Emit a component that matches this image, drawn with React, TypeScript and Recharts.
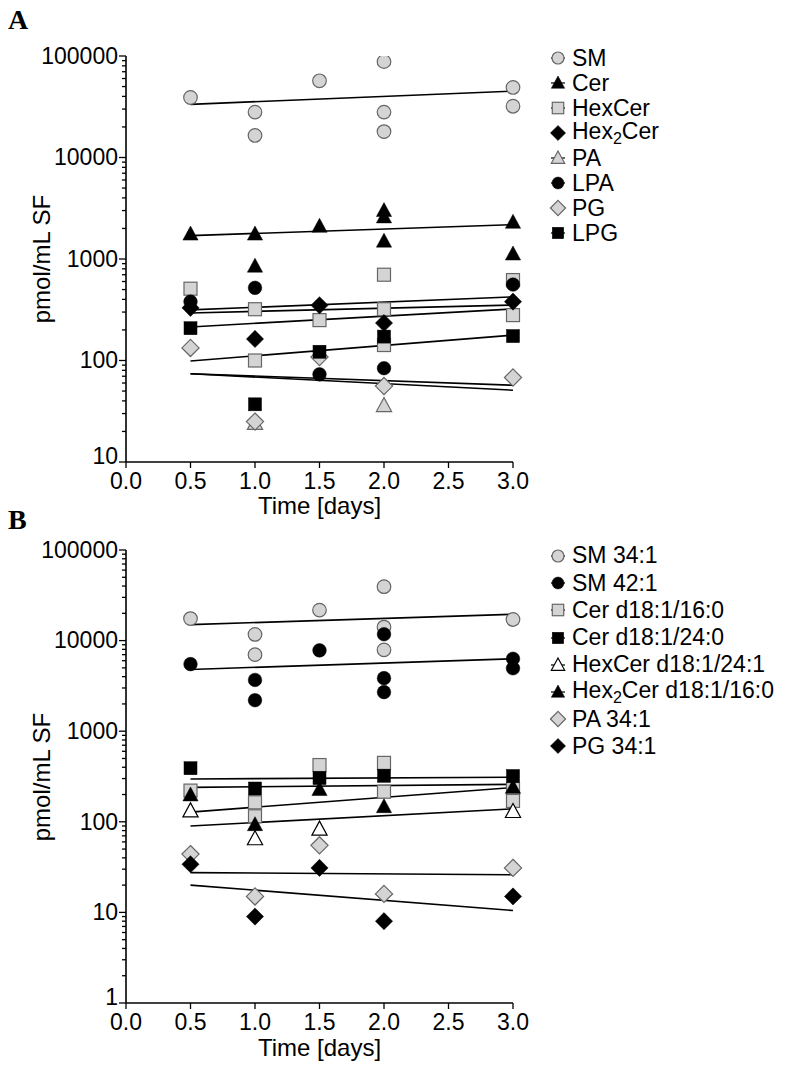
import React from 'react'
import { ComposedChart, Scatter, Line, XAxis, YAxis } from 'recharts'

type Pt = [number, number]
type Kind = 'circle' | 'square' | 'triangle' | 'diamond'
type Tone = 'grey' | 'black' | 'white'

const FONT = '"Liberation Sans", Arial, sans-serif'
const GREY = '#d4d4d4'
const GREY_EDGE = '#666666'

// x axis
const X_TICKS = [0, 0.5, 1, 1.5, 2, 2.5, 3]
const FIT_DAYS = [0.5, 3]

// panel A  [day, pmol/mL]
const SM_A: Pt[] = [[0.5, 39000], [1, 28000], [1, 16500], [1.5, 57000], [2, 88000], [2, 28000], [2, 18000], [3, 49000], [3, 32000]]
const CER_A: Pt[] = [[0.5, 1760], [1, 1760], [1, 850], [1.5, 2100], [2, 3000], [2, 2600], [2, 1500], [3, 2300], [3, 1120]]
const HEXCER_A: Pt[] = [[0.5, 510], [1, 320], [1, 100], [1.5, 250], [2, 700], [2, 320], [2, 142], [3, 620], [3, 280]]
const HEX2CER_A: Pt[] = [[0.5, 330], [1, 163], [1.5, 350], [2, 234], [3, 380]]
const PA_A: Pt[] = [[1, 24], [2, 36]]
const LPA_A: Pt[] = [[0.5, 380], [1, 520], [1.5, 73], [2, 84], [3, 560]]
const PG_A: Pt[] = [[0.5, 133], [1, 25], [1.5, 108], [2, 56], [3, 68]]
const LPG_A: Pt[] = [[0.5, 208], [1, 37], [1.5, 122], [2, 172], [3, 174]]

// regression lines, value at day 0.5 and day 3.0
const SM_A_FIT = [33400, 45000]
const CER_A_FIT = [1700, 2180]
const HEXCER_A_FIT = [214, 322]
const HEX2CER_A_FIT = [294, 352]
const PA_A_FIT = [74, 51]
const LPA_A_FIT = [315, 423]
const PG_A_FIT = [74, 57]
const LPG_A_FIT = [99, 178]

// panel B
const SM341_B: Pt[] = [[0.5, 17500], [1, 11700], [1, 7000], [1.5, 21700], [2, 39400], [2, 14100], [2, 7900], [3, 17100]]
const SM421_B: Pt[] = [[0.5, 5500], [1, 3680], [1, 2200], [1.5, 7800], [2, 11750], [2, 3850], [2, 2700], [3, 6300], [3, 4950]]
const CER16_B: Pt[] = [[0.5, 221], [1, 164], [1, 115], [1.5, 423], [2, 447], [2, 215], [3, 230], [3, 170]]
const CER24_B: Pt[] = [[0.5, 390], [1, 233], [1.5, 304], [2, 322], [3, 320]]
const HEXCER_B: Pt[] = [[0.5, 132], [1, 65], [1.5, 83], [3, 130]]
const HEX2CER_B: Pt[] = [[0.5, 198], [1, 93], [1.5, 227], [2, 147], [3, 240]]
const PA_B: Pt[] = [[0.5, 44], [1, 15], [1.5, 55], [2, 16], [3, 31]]
const PG_B: Pt[] = [[0.5, 34], [1, 9], [1.5, 31], [2, 8], [3, 15]]

const SM341_B_FIT = [15000, 19500]
const SM421_B_FIT = [4800, 6300]
const CER16_B_FIT = [240, 259]
const CER24_B_FIT = [297, 310]
const HEXCER_B_FIT = [90, 139]
const HEX2CER_B_FIT = [128, 239]
const PA_B_FIT = [27.5, 26]
const PG_B_FIT = [20, 10.5]

const DECADES_A = [10, 100, 1000, 10000, 100000]
const DECADES_B = [1, 10, 100, 1000, 10000, 100000]

interface Series {
  name: string
  pts: Pt[]
  fit: number[]
  kind: Kind
  tone: Tone
}

const SERIES_A: Series[] = [
  { name: 'SM', pts: SM_A, fit: SM_A_FIT, kind: 'circle', tone: 'grey' },
  { name: 'Cer', pts: CER_A, fit: CER_A_FIT, kind: 'triangle', tone: 'black' },
  { name: 'HexCer', pts: HEXCER_A, fit: HEXCER_A_FIT, kind: 'square', tone: 'grey' },
  { name: 'Hex_2Cer', pts: HEX2CER_A, fit: HEX2CER_A_FIT, kind: 'diamond', tone: 'black' },
  { name: 'PA', pts: PA_A, fit: PA_A_FIT, kind: 'triangle', tone: 'grey' },
  { name: 'LPA', pts: LPA_A, fit: LPA_A_FIT, kind: 'circle', tone: 'black' },
  { name: 'PG', pts: PG_A, fit: PG_A_FIT, kind: 'diamond', tone: 'grey' },
  { name: 'LPG', pts: LPG_A, fit: LPG_A_FIT, kind: 'square', tone: 'black' },
]

const SERIES_B: Series[] = [
  { name: 'SM 34:1', pts: SM341_B, fit: SM341_B_FIT, kind: 'circle', tone: 'grey' },
  { name: 'SM 42:1', pts: SM421_B, fit: SM421_B_FIT, kind: 'circle', tone: 'black' },
  { name: 'Cer d18:1/16:0', pts: CER16_B, fit: CER16_B_FIT, kind: 'square', tone: 'grey' },
  { name: 'Cer d18:1/24:0', pts: CER24_B, fit: CER24_B_FIT, kind: 'square', tone: 'black' },
  { name: 'HexCer d18:1/24:1', pts: HEXCER_B, fit: HEXCER_B_FIT, kind: 'triangle', tone: 'white' },
  { name: 'Hex_2Cer d18:1/16:0', pts: HEX2CER_B, fit: HEX2CER_B_FIT, kind: 'triangle', tone: 'black' },
  { name: 'PA 34:1', pts: PA_B, fit: PA_B_FIT, kind: 'diamond', tone: 'grey' },
  { name: 'PG 34:1', pts: PG_B, fit: PG_B_FIT, kind: 'diamond', tone: 'black' },
]

const PLOT_LEFT = 126
const PLOT_W = 387

function logTicks(decades: number[]) {
  const out: number[] = []
  decades.forEach((d, i) => {
    if (i === decades.length - 1) out.push(d)
    else for (let k = 1; k <= 9; k++) out.push(d * k)
  })
  return out
}

function Mark({ cx, cy, kind, tone, s = 1 }: { cx: number; cy: number; kind: Kind; tone: Tone; s?: number }) {
  const fill = tone === 'grey' ? GREY : tone === 'white' ? '#fff' : '#000'
  const stroke = tone === 'grey' ? GREY_EDGE : '#000'
  const sw = tone === 'black' ? 0.5 : 1.2
  const common = { fill, stroke, strokeWidth: sw }
  if (kind === 'circle') return <circle cx={cx} cy={cy} r={6.8 * s} {...common} />
  if (kind === 'square') {
    const h = 6.5 * s
    return <rect x={cx - h} y={cy - h} width={2 * h} height={2 * h} {...common} />
  }
  if (kind === 'triangle') {
    const pts = `${cx},${cy - 8 * s} ${cx - 7.6 * s},${cy + 6 * s} ${cx + 7.6 * s},${cy + 6 * s}`
    return <polygon points={pts} {...common} />
  }
  const d = 8.6 * s
  return <polygon points={`${cx},${cy - d} ${cx + d},${cy} ${cx},${cy + d} ${cx - d},${cy}`} {...common} />
}

function LogTick(props: any) {
  const { y, payload, majors } = props
  const v = payload.value
  const major = majors.includes(v)
  // the lowest label sits right above the 0.0 tick label, lift it a touch
  const dy = v === majors[0] ? '0.1em' : '0.34em'
  return (
    <g>
      <line x1={PLOT_LEFT - (major ? 7 : 4)} x2={PLOT_LEFT} y1={y} y2={y} stroke="#000" strokeWidth={1.3} />
      {major && (
        <text x={PLOT_LEFT - 8} y={y} dy={dy} textAnchor="end" fontSize={23} fontFamily={FONT} fill="#000">
          {v}
        </text>
      )}
    </g>
  )
}

function Label({ name }: { name: string }) {
  const parts = name.split('_2')
  if (parts.length === 1) return <>{name}</>
  return (
    <>
      {parts[0]}
      <sub style={{ fontSize: '0.7em', verticalAlign: '-0.3em' }}>2</sub>
      {parts[1]}
    </>
  )
}

function Panel({ series, decades, top, height, plotTop, plotH }: { series: Series[]; decades: number[]; top: number; height: number; plotTop: number; plotH: number }) {
  const bottomMargin = height - plotTop - plotH - 30
  return (
    <div style={{ position: 'absolute', left: 0, top }}>
      <ComposedChart width={PLOT_LEFT + PLOT_W + 20} height={height} margin={{ top: plotTop, right: 20, left: 0, bottom: bottomMargin }}>
        <XAxis
          type="number"
          dataKey="x"
          domain={[0, 3]}
          ticks={X_TICKS}
          interval={0}
          tickFormatter={(v: number) => v.toFixed(1)}
          height={30}
          tickSize={6}
          tickMargin={5}
          axisLine={{ stroke: '#000', strokeWidth: 1.6 }}
          tickLine={{ stroke: '#000', strokeWidth: 1.3 }}
          tick={{ fill: '#000', fontSize: 23, fontFamily: FONT }}
        />
        <YAxis
          type="number"
          scale="log"
          domain={[decades[0], decades[decades.length - 1]]}
          allowDataOverflow
          ticks={logTicks(decades)}
          interval={0}
          width={PLOT_LEFT}
          tickLine={false}
          axisLine={{ stroke: '#000', strokeWidth: 1.6 }}
          tick={(p: any) => <LogTick {...p} majors={decades} />}
        />
        {series.map((s) => (
          <Line
            key={'fit-' + s.name}
            data={FIT_DAYS.map((d, i) => ({ x: d, y: s.fit[i] }))}
            dataKey="y"
            stroke="#000"
            strokeWidth={1.6}
            dot={false}
            activeDot={false}
            isAnimationActive={false}
          />
        ))}
        {series.map((s) => (
          <Scatter
            key={'pts-' + s.name}
            data={s.pts.map(([x, y]) => ({ x, y }))}
            dataKey="y"
            isAnimationActive={false}
            shape={(p: any) => <Mark cx={p.cx} cy={p.cy} kind={s.kind} tone={s.tone} />}
          />
        ))}
      </ComposedChart>
    </div>
  )
}

function Legend({ series, left, top, step }: { series: Series[]; left: number; top: number; step: number }) {
  return (
    <div style={{ position: 'absolute', left, top: top - step / 2, fontFamily: FONT, fontSize: 23 }}>
      {series.map((s) => (
        <div key={s.name} style={{ display: 'flex', alignItems: 'center', height: step, whiteSpace: 'nowrap' }}>
          <svg width={20} height={20} style={{ marginRight: 4 }}>
            <line x1={3} x2={17} y1={10} y2={10} stroke="#000" strokeWidth={1.2} />
            <Mark cx={10} cy={10} kind={s.kind} tone={s.tone} s={0.88} />
          </svg>
          <span>
            <Label name={s.name} />
          </span>
        </div>
      ))}
    </div>
  )
}

function YTitle({ cy }: { cy: number }) {
  return (
    <div
      style={{
        position: 'absolute',
        left: 42,
        top: cy,
        transform: 'translate(-50%, -50%) rotate(-90deg)',
        whiteSpace: 'nowrap',
        fontFamily: FONT,
        fontSize: 24,
        lineHeight: '24px',
      }}
    >
      pmol/mL SF
    </div>
  )
}

function XTitle({ cy }: { cy: number }) {
  return (
    <div
      style={{
        position: 'absolute',
        left: PLOT_LEFT,
        width: PLOT_W,
        top: cy - 11,
        height: 22,
        lineHeight: '22px',
        textAlign: 'center',
        fontFamily: FONT,
        fontSize: 24,
      }}
    >
      Time [days]
    </div>
  )
}

const letter: React.CSSProperties = {
  position: 'absolute',
  left: 8,
  fontFamily: '"Liberation Serif", "Times New Roman", serif',
  fontWeight: 'bold',
  fontSize: 28,
}

export default function App() {
  return (
    <div style={{ position: 'absolute', left: 0, top: 0, width: 796, height: 1065, background: '#fff' }}>
      <div style={{ ...letter, top: 4 }}>A</div>
      <Panel series={SERIES_A} decades={DECADES_A} top={0} height={512} plotTop={56} plotH={406} />
      <YTitle cy={259} />
      <XTitle cy={506} />
      <Legend series={SERIES_A} left={548} top={58} step={25} />

      <div style={{ ...letter, top: 504 }}>B</div>
      <Panel series={SERIES_B} decades={DECADES_B} top={500} height={556} plotTop={50} plotH={453} />
      <YTitle cy={777} />
      <XTitle cy={1048} />
      <Legend series={SERIES_B} left={548} top={556} step={27.2} />
    </div>
  )
}
